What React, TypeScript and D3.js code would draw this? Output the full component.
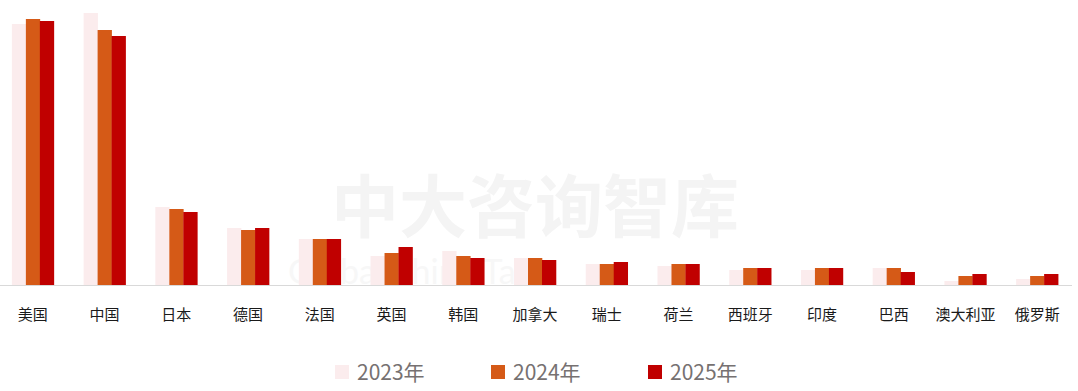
import React, { useEffect, useRef } from 'react';
import * as d3 from 'd3';

// countries in display order
const countries = ['美国', '中国', '日本', '德国', '法国', '英国', '韩国', '加拿大', '瑞士', '荷兰', '西班牙', '印度', '巴西', '澳大利亚', '俄罗斯'];
const years = ['2023年', '2024年', '2025年'];

// values (relative units)
const v2023 = [261, 272, 78, 57, 46, 29, 34, 27, 21, 19, 15, 15, 17, 4, 6];
const v2024 = [266, 255, 76, 55, 46, 32, 29, 27, 21, 21, 17, 17, 17, 9, 9];
const v2025 = [264, 249, 73, 57, 46, 38, 27, 25, 23, 21, 17, 17, 13, 11, 11];

const colors = ['#fbeced', '#d55a17', '#c00000'];

export default function App() {
    const ref = useRef<SVGSVGElement>(null);

    useEffect(() => {
        const width = 1078;
        const height = 391;
        const baseY = 285;
        const svg = d3.select(ref.current);
        svg.selectAll('*').remove();

        // faint watermark
        svg.append('text')
            .attr('x', 535).attr('y', 232)
            .attr('text-anchor', 'middle')
            .attr('font-family', '"Noto Sans CJK SC", sans-serif')
            .attr('font-weight', 700)
            .attr('font-size', 68)
            .attr('fill', '#f4f4f4')
            .text('中大咨询智库');
        svg.append('text')
            .attr('x', 420).attr('y', 284)
            .attr('text-anchor', 'middle')
            .attr('font-family', 'Lato, sans-serif')
            .attr('font-size', 34)
            .attr('fill', '#f7f7f7')
            .text('Global Think Tank');

        const x = d3.scaleBand()
            .domain(countries)
            .range([-3, 1073])
            .paddingInner(0.415)
            .paddingOuter(0.2075);

        const x1 = d3.scaleBand()
            .domain(years)
            .range([0, x.bandwidth()]);

        const y = d3.scaleLinear()
            .domain([0, 272])
            .range([baseY, 13]);

        const series = [v2023, v2024, v2025];

        series.forEach((vals, si) => {
            svg.append('g')
                .selectAll('rect')
                .data(vals)
                .enter()
                .append('rect')
                .attr('x', (d, i) => (x(countries[i]) as number) + (x1(years[si]) as number))
                .attr('y', d => y(d))
                .attr('width', x1.bandwidth() + 0.3)
                .attr('height', d => baseY - y(d))
                .attr('fill', colors[si]);
        });

        // baseline
        svg.append('line')
            .attr('x1', 0).attr('x2', 1072)
            .attr('y1', baseY + 0.5).attr('y2', baseY + 0.5)
            .attr('stroke', '#d9d9d9')
            .attr('stroke-width', 1);

        // category labels
        svg.append('g')
            .selectAll('text')
            .data(countries)
            .enter()
            .append('text')
            .attr('x', d => (x(d) as number) + x.bandwidth() / 2)
            .attr('y', 320)
            .attr('text-anchor', 'middle')
            .attr('font-family', '"Noto Sans CJK SC", sans-serif')
            .attr('font-size', 15)
            .attr('fill', '#1a1a1a')
            .text(d => d);

        // legend
        const legendX = [335, 491, 648];
        const legend = svg.append('g');
        years.forEach((yr, i) => {
            legend.append('rect')
                .attr('x', legendX[i]).attr('y', 365)
                .attr('width', 14).attr('height', 14)
                .attr('fill', colors[i]);
            legend.append('text')
                .attr('x', legendX[i] + 22).attr('y', 380)
                .attr('font-family', '"Noto Sans CJK SC", sans-serif')
                .attr('font-size', 21)
                .attr('fill', '#767171')
                .text(yr);
        });

        svg.attr('width', width).attr('height', height);
    }, []);

    return (
        <div style={{ position: 'absolute', left: 0, top: 0, background: '#fff' }}>
            <svg ref={ref} width={1078} height={391} style={{ display: 'block' }} />
        </div>
    );
}
